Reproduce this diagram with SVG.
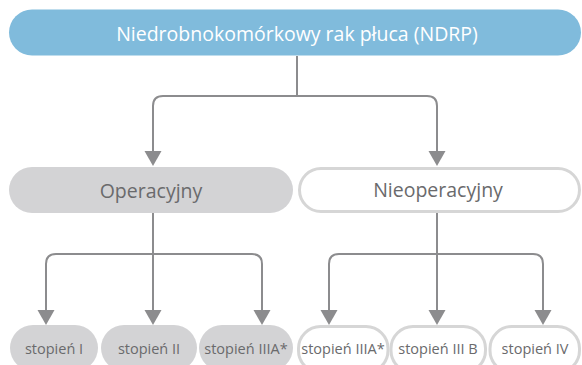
<svg xmlns="http://www.w3.org/2000/svg" width="582" height="365" viewBox="0 0 582 365">
<defs>
<style>
.conn{fill:none;stroke:#8c8c8e;stroke-width:2}
.head{fill:#8c8c8e}
.t{font-family:"Open Sans","Liberation Sans",sans-serif;text-anchor:middle;dominant-baseline:central}
.gray{fill:#d3d3d5}
.outl{fill:#fff;stroke:#d6d6d6;stroke-width:3}
.lbl{fill:#6a6a6c}
.sm{font-size:14.5px}
</style>
</defs>
<rect width="582" height="365" fill="#fff"/>
<g id="connectors">
<path class="conn" d="M297 56 V96"/>
<path class="conn" d="M153 153 V106 Q153 96 163 96 H427 Q437 96 437 106 V153"/>
<polygon class="head" points="144.5,151 161.5,151 153,166"/>
<polygon class="head" points="428.5,151 445.5,151 437,166"/>
<path class="conn" d="M153 213 V254"/>
<path class="conn" d="M46 311 V264 Q46 254 56 254 H252 Q262 254 262 264 V311"/>
<path class="conn" d="M153 254 V311"/>
<polygon class="head" points="37.5,310 54.5,310 46,325"/>
<polygon class="head" points="144.5,310 161.5,310 153,325"/>
<polygon class="head" points="253.5,310 270.5,310 262,325"/>
<path class="conn" d="M437 213 V254"/>
<path class="conn" d="M329 311 V264 Q329 254 339 254 H533 Q543 254 543 264 V311"/>
<path class="conn" d="M437 254 V311"/>
<polygon class="head" points="320.5,310 337.5,310 329,325"/>
<polygon class="head" points="428.5,310 445.5,310 437,325"/>
<polygon class="head" points="534.5,310 551.5,310 543,325"/>
</g>
<g id="ndrp">
<rect x="9" y="9.5" width="572" height="46" rx="23" fill="#80bbdc"/>
<text class="t" x="297" y="33" font-size="19.5" fill="#fff">Niedrobnokomórkowy rak płuca (NDRP)</text>
</g>
<g id="operacyjny">
<rect class="gray" x="9" y="167" width="284" height="46" rx="23"/>
<text class="t lbl" x="151" y="190" font-size="19.5">Operacyjny</text>
</g>
<g id="nieoperacyjny">
<rect class="outl" x="299.5" y="168.5" width="280" height="43" rx="21.5"/>
<text class="t lbl" x="438" y="189" font-size="19.5">Nieoperacyjny</text>
</g>
<g id="op-st1">
<rect class="gray" x="10" y="325" width="88" height="46" rx="23"/>
<text class="t lbl sm" x="54" y="348">stopień I</text>
</g>
<g id="op-st2">
<rect class="gray" x="101" y="325" width="96" height="46" rx="23"/>
<text class="t lbl sm" x="149" y="348">stopień II</text>
</g>
<g id="op-st3a">
<rect class="gray" x="199" y="325" width="94" height="46" rx="23"/>
<text class="t lbl sm" x="246" y="348">stopień IIIA*</text>
</g>
<g id="nop-st3a">
<rect class="outl" x="298.5" y="326.5" width="89.5" height="46" rx="22"/>
<text class="t lbl sm" x="343" y="348">stopień IIIA*</text>
</g>
<g id="nop-st3b">
<rect class="outl" x="391" y="326.5" width="94.5" height="46" rx="22"/>
<text class="t lbl sm" x="438" y="348">stopień III B</text>
</g>
<g id="nop-st4">
<rect class="outl" x="490" y="326.5" width="89.5" height="46" rx="22"/>
<text class="t lbl sm" x="535" y="348">stopień IV</text>
</g>
</svg>
